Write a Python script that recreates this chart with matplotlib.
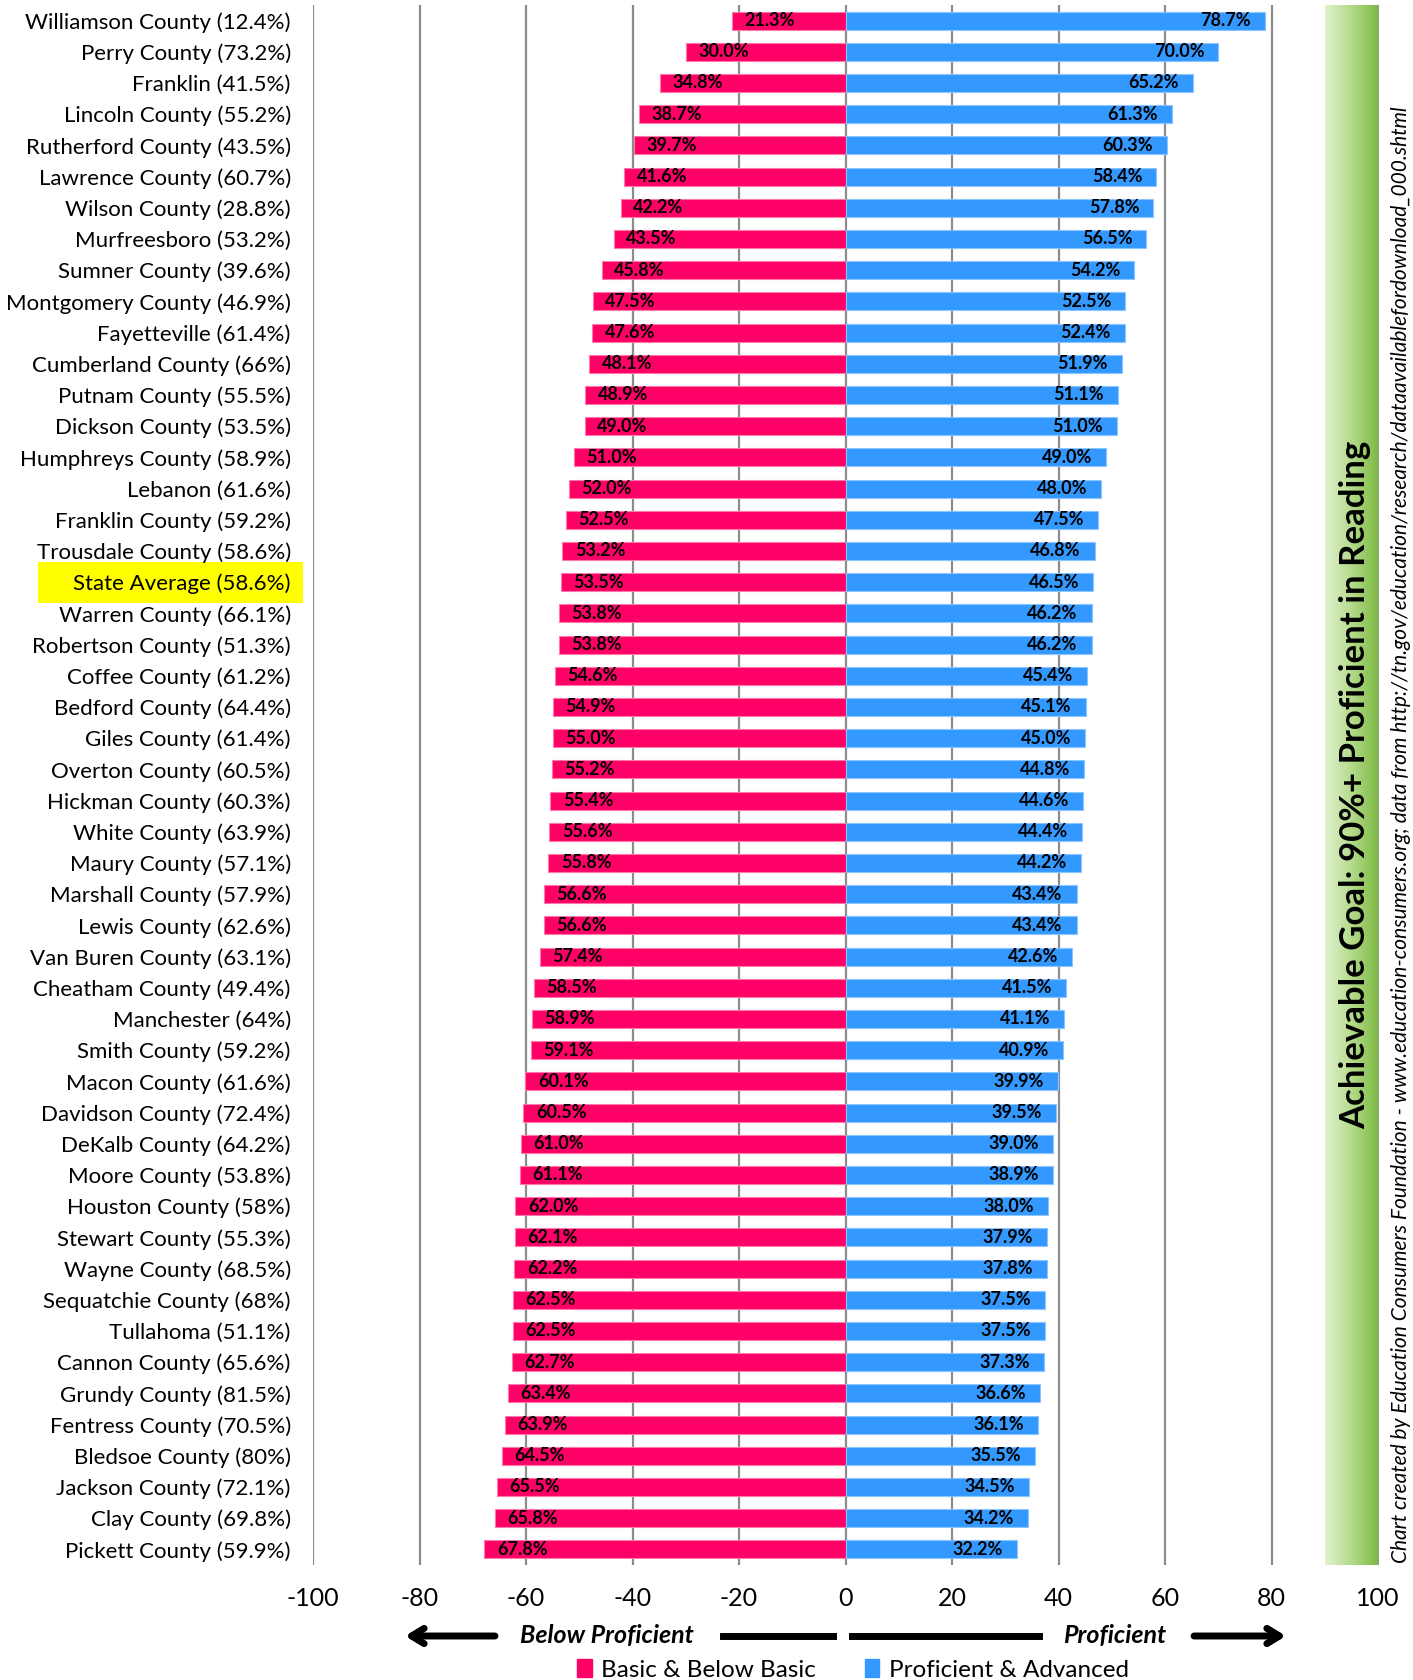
import matplotlib
matplotlib.use("Agg")
import matplotlib.pyplot as plt
import numpy as np
from matplotlib.patches import Rectangle
from matplotlib.colors import LinearSegmentedColormap
import matplotlib.transforms as mtransforms

plt.rcParams["font.family"] = ["Lato", "DejaVu Sans"]

counties = [
    "Williamson County (12.4%)", "Perry County (73.2%)", "Franklin (41.5%)",
    "Lincoln County (55.2%)", "Rutherford County (43.5%)", "Lawrence County (60.7%)",
    "Wilson County (28.8%)", "Murfreesboro (53.2%)", "Sumner County (39.6%)",
    "Montgomery County (46.9%)", "Fayetteville (61.4%)", "Cumberland County (66%)",
    "Putnam County (55.5%)", "Dickson County (53.5%)", "Humphreys County (58.9%)",
    "Lebanon (61.6%)", "Franklin County (59.2%)", "Trousdale County (58.6%)",
    "State Average (58.6%)", "Warren County (66.1%)", "Robertson County (51.3%)",
    "Coffee County (61.2%)", "Bedford County (64.4%)", "Giles County (61.4%)",
    "Overton County (60.5%)", "Hickman County (60.3%)", "White County (63.9%)",
    "Maury County (57.1%)", "Marshall County (57.9%)", "Lewis County (62.6%)",
    "Van Buren County (63.1%)", "Cheatham County (49.4%)", "Manchester (64%)",
    "Smith County (59.2%)", "Macon County (61.6%)", "Davidson County (72.4%)",
    "DeKalb County (64.2%)", "Moore County (53.8%)", "Houston County (58%)",
    "Stewart County (55.3%)", "Wayne County (68.5%)", "Sequatchie County (68%)",
    "Tullahoma (51.1%)", "Cannon County (65.6%)", "Grundy County (81.5%)",
    "Fentress County (70.5%)", "Bledsoe County (80%)", "Jackson County (72.1%)",
    "Clay County (69.8%)", "Pickett County (59.9%)",
]
below = [
    21.3, 30.0, 34.8, 38.7, 39.7, 41.6, 42.2, 43.5, 45.8, 47.5,
    47.6, 48.1, 48.9, 49.0, 51.0, 52.0, 52.5, 53.2, 53.5, 53.8,
    53.8, 54.6, 54.9, 55.0, 55.2, 55.4, 55.6, 55.8, 56.6, 56.6,
    57.4, 58.5, 58.9, 59.1, 60.1, 60.5, 61.0, 61.1, 62.0, 62.1,
    62.2, 62.5, 62.5, 62.7, 63.4, 63.9, 64.5, 65.5, 65.8, 67.8,
]
proficient = [
    78.7, 70.0, 65.2, 61.3, 60.3, 58.4, 57.8, 56.5, 54.2, 52.5,
    52.4, 51.9, 51.1, 51.0, 49.0, 48.0, 47.5, 46.8, 46.5, 46.2,
    46.2, 45.4, 45.1, 45.0, 44.8, 44.6, 44.4, 44.2, 43.4, 43.4,
    42.6, 41.5, 41.1, 40.9, 39.9, 39.5, 39.0, 38.9, 38.0, 37.9,
    37.8, 37.5, 37.5, 37.3, 36.6, 36.1, 35.5, 34.5, 34.2, 32.2,
]
ticks = [-100, -80, -60, -40, -20, 0, 20, 40, 60, 80, 100]
highlight = "State Average (58.6%)"
goal_start = 90

PINK = "#FF0066"
BLUE = "#3399FF"

fig = plt.figure(figsize=(14.13, 16.8), dpi=100)
ax = fig.add_axes([313 / 1413, 1 - 1565 / 1680, (1378 - 313) / 1413, (1565 - 5) / 1680])

y = np.arange(len(counties))
neg = -np.array(below)
pos = np.array(proficient)

for t in ticks[:-1]:
    ax.axvline(t, color="#8c8c8c", lw=1.6, zorder=1)

ax.barh(y, neg, height=0.58, color=PINK, edgecolor="#ff7aa8", linewidth=0.8, zorder=2)
ax.barh(y, pos, height=0.58, color=BLUE, edgecolor="#8cc4ff", linewidth=0.8, zorder=2)

for yi, b, p in zip(y, neg, pos):
    ax.annotate(f"{-b:.1f}%", (b, yi), xytext=(9, 0), textcoords="offset points",
                ha="left", va="center", fontsize=13, fontweight="bold", zorder=3)
    ax.annotate(f"{p:.1f}%", (p, yi), xytext=(-10, 0), textcoords="offset points",
                ha="right", va="center", fontsize=13, fontweight="bold", zorder=3)

# goal band with horizontal gradient
green = LinearSegmentedColormap.from_list("g", ["#e2f2cf", "#b3da8a", "#7db841"])
grad = np.linspace(0, 1, 256).reshape(1, -1)
ax.imshow(grad, cmap=green, aspect="auto", extent=(goal_start, 100, len(counties) - 0.5, -0.5),
          zorder=1)
ax.axvline(100, color="#9a9a9a", lw=1.2, zorder=1)

ax.set_xlim(-100, 100)
ax.set_ylim(len(counties) - 0.5, -0.5)
ax.set_yticks(y)
ax.set_yticklabels(counties, fontsize=16)
ax.set_xticks(ticks)
ax.set_xticklabels([str(t) for t in ticks], fontsize=18)
ax.tick_params(axis="y", length=0, pad=16)
ax.tick_params(axis="x", length=0, pad=16)
for s in ax.spines.values():
    s.set_visible(False)

# yellow highlight behind state average label
hi = counties.index(highlight)
trans = mtransforms.blended_transform_factory(fig.transFigure, ax.transData)
fig.patches.append(Rectangle((38 / 1413, hi + 0.66), (303 - 38) / 1413, -1.3,
                             transform=trans, facecolor="#FFFF00", edgecolor="none", zorder=-1))

# side texts
fig.text(1355 / 1413, 1 - 785 / 1680, "Achievable Goal: 90%+ Proficient in Reading",
         rotation=90, ha="center", va="center", fontsize=25, fontweight="bold")
fig.text(1401 / 1413, 1 - 835 / 1680,
         "Chart created by Education Consumers Foundation - www.education-consumers.org; "
         "data from http://tn.gov/education/research/dataavailablefordownload_000.shtml",
         rotation=90, ha="center", va="center", fontsize=15, style="italic")

# direction arrows
ya = 1 - 1636 / 1680
arrow = dict(arrowstyle="->,head_length=0.9,head_width=0.55", lw=5, color="black",
             shrinkA=0, shrinkB=0)
fig.add_artist(plt.Line2D([723 / 1413, 833 / 1413], [ya, ya], lw=5, color="black"))
fig.add_artist(plt.Line2D([852 / 1413, 1039 / 1413], [ya, ya], lw=5, color="black"))
ax.annotate("", xy=(405 / 1413, ya), xytext=(495 / 1413, ya), xycoords="figure fraction",
            textcoords="figure fraction", arrowprops=arrow, annotation_clip=False)
ax.annotate("", xy=(1286 / 1413, ya), xytext=(1194 / 1413, ya), xycoords="figure fraction",
            textcoords="figure fraction", arrowprops=arrow, annotation_clip=False)
fig.text(607 / 1413, ya, "Below Proficient", ha="center", va="center", fontsize=18,
         fontweight="bold", style="italic")
fig.text(1115 / 1413, ya, "Proficient", ha="center", va="center", fontsize=18,
         fontweight="bold", style="italic")

# legend
handles = [Rectangle((0, 0), 1, 1, color=PINK), Rectangle((0, 0), 1, 1, color=BLUE)]
fig.legend(handles, ["Basic & Below Basic", "Proficient & Advanced"], loc="center",
           bbox_to_anchor=(853 / 1413, 1 - 1670 / 1680), ncol=2, frameon=False, fontsize=17.5,
           handlelength=0.6, handleheight=0.7, handletextpad=0.4, columnspacing=2.0)

fig.savefig("out.png", dpi=100)
